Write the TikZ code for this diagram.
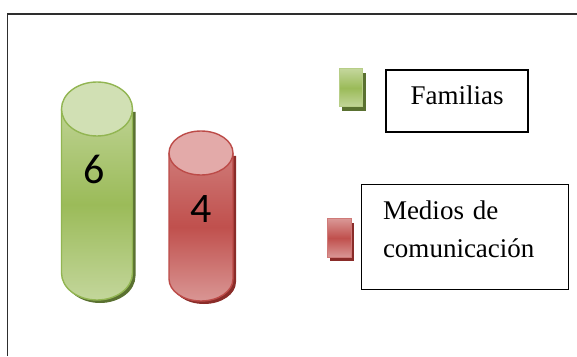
\documentclass[tikz,border=0pt]{standalone}
\usepackage{fontspec}
\setmainfont{Liberation Serif}
\newfontfamily\zahlfont{Carlito}

\definecolor{rahmen}{HTML}{2E2E2E}
\definecolor{gruen}{HTML}{9BBB59}
\definecolor{gruenhell}{HTML}{C3D69B}
\definecolor{gruentop}{HTML}{D1E0B4}
\definecolor{gruenrand}{HTML}{92B552}
\definecolor{gruenschatten}{HTML}{5A7131}
\definecolor{rot}{HTML}{C0504D}
\definecolor{rothell}{HTML}{D99694}
\definecolor{rottop}{HTML}{E3AAA9}
\definecolor{rotrand}{HTML}{BC4B48}
\definecolor{rotschatten}{HTML}{8A2C29}

\begin{document}
\begin{tikzpicture}[x = 1pt, y = 1pt]
		\tikzstyle{every node} = [font = \fontsize{27}{38}\selectfont]
		\tikzstyle{zahl} = [font = \zahlfont\fontsize{42}{42}\selectfont, text height = 26pt, text depth = 0pt, inner sep = 0pt]
		\tikzstyle{legende} = [draw = black, line width = 1.2pt, inner sep = 0pt]
\useasboundingbox (0,0) rectangle (577,356);

% Rahmen
\draw[draw = rahmen, line width = 1.6pt]
	(7.5,0) -- (7.5,342) -- (577,342);

% Zylinder Familias
\fill[gruenschatten]
	(64.5,244) -- (64.5,80) arc[start angle = 180, end angle = 360, x radius = 35.5, y radius = 27] -- (135.5,244) -- cycle;
\shade[top color = gruenhell!85!gruen, bottom color = gruenhell, middle color = gruen]
	(61.5,247) -- (61.5,83) arc[start angle = 180, end angle = 360, x radius = 35.5, y radius = 27] -- (132.5,247) -- cycle;
\draw[draw = gruenrand, line width = 1.4pt]
	(61.5,247) -- (61.5,83) arc[start angle = 180, end angle = 360, x radius = 35.5, y radius = 27] -- (132.5,247);
\draw[draw = gruenrand, fill = gruentop, line width = 1.4pt]
	(97,247) ellipse[x radius = 35.5, y radius = 27];

% Zylinder Medios
\fill[rotschatten]
	(172,200) -- (172,74) arc[start angle = 180, end angle = 360, x radius = 32, y radius = 22] -- (236,200) -- cycle;
\shade[top color = rothell!60!rot, bottom color = rothell, middle color = rot]
	(169,203) -- (169,77) arc[start angle = 180, end angle = 360, x radius = 32, y radius = 22] -- (233,203) -- cycle;
\draw[draw = rotrand, line width = 1.4pt]
	(169,203) -- (169,77) arc[start angle = 180, end angle = 360, x radius = 32, y radius = 22] -- (233,203);
\draw[draw = rotrand, fill = rottop, line width = 1.4pt]
	(201,203) ellipse[x radius = 32, y radius = 22];

% Werte
\node[zahl] (sechs) at (94,185) {6};
\node[zahl] (vier) at (201.5,147) {4};

% Legende
\fill[gruenschatten] (342,245) rectangle ++(23.5,38);
\shade[top color = gruenhell, bottom color = gruenhell, middle color = gruen]
	(339.5,249) rectangle ++(23,38);
\draw[draw = gruenhell!70!gruen, line width = 1pt] (339.5,249) rectangle ++(23,38);
\fill[rotschatten] (330,95) rectangle ++(24,38);
\shade[top color = rothell, bottom color = rothell, middle color = rot]
	(327.5,99) rectangle ++(24,38);
\draw[draw = rothell!60!rot, line width = 1pt] (327.5,99) rectangle ++(24,38);

\node[legende, minimum width = 142pt, minimum height = 62pt, text height = 18pt, text depth = 10pt]
	(familias) at (457,255) {Familias};
\node[legende, minimum width = 206.5pt, minimum height = 105.5pt, text width = 164pt, align = left, text height = 18pt, text depth = 52pt]
	(medios) at (465,119) {Medios de\\comunicación};

	\end{tikzpicture}
\end{document}
